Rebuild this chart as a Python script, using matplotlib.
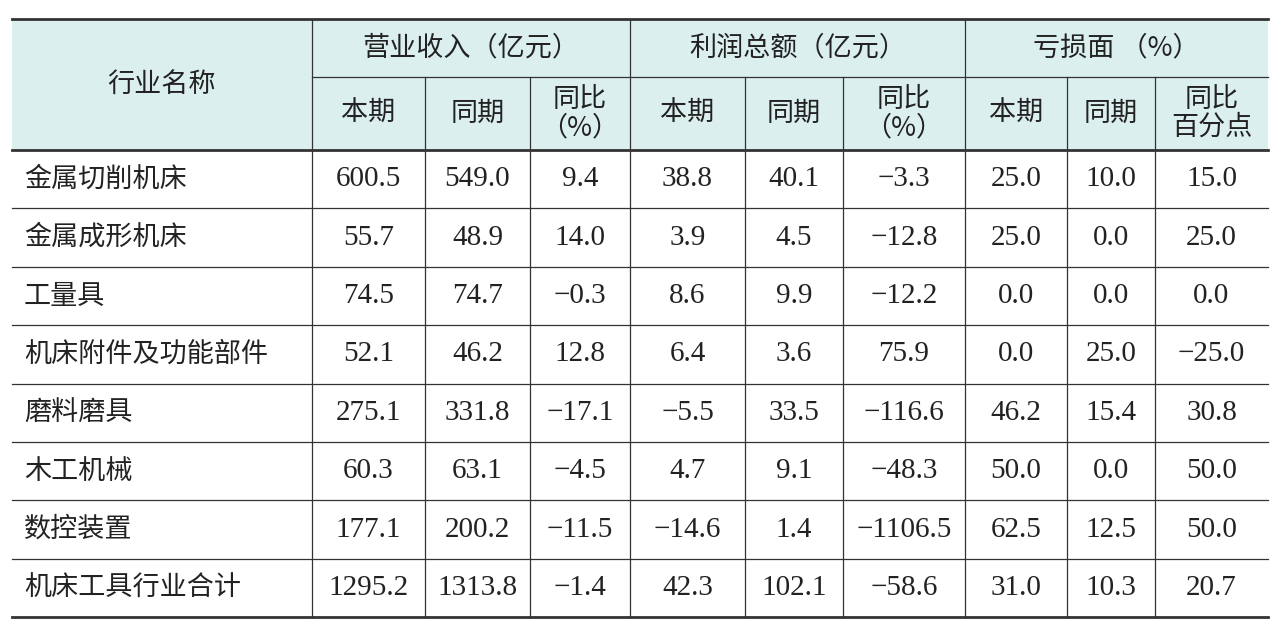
import matplotlib.pyplot as plt
import matplotlib.patches as patches

plt.rcParams['font.family'] = ['Noto Sans CJK SC', 'DejaVu Sans']

groups = ["营业收入（亿元）", "利润总额（亿元）", "亏损面 （%）"]
sub_headers = ["本期", "同期", "同比\n（%）", "本期", "同期", "同比\n（%）", "本期", "同期", "同比\n百分点"]
industries = ["金属切削机床", "金属成形机床", "工量具", "机床附件及功能部件",
              "磨料磨具", "木工机械", "数控装置", "机床工具行业合计"]
revenue_now = [600.5, 55.7, 74.5, 52.1, 275.1, 60.3, 177.1, 1295.2]
revenue_prev = [549.0, 48.9, 74.7, 46.2, 331.8, 63.1, 200.2, 1313.8]
revenue_yoy = [9.4, 14.0, -0.3, 12.8, -17.1, -4.5, -11.5, -1.4]
profit_now = [38.8, 3.9, 8.6, 6.4, -5.5, 4.7, -14.6, 42.3]
profit_prev = [40.1, 4.5, 9.9, 3.6, 33.5, 9.1, 1.4, 102.1]
profit_yoy = [-3.3, -12.8, -12.2, 75.9, -116.6, -48.3, -1106.5, -58.6]
loss_now = [25.0, 25.0, 0.0, 0.0, 46.2, 50.0, 62.5, 31.0]
loss_prev = [10.0, 0.0, 0.0, 25.0, 15.4, 0.0, 12.5, 10.3]
loss_yoy = [15.0, 25.0, 0.0, -25.0, 30.8, 50.0, 50.0, 20.7]
columns = [revenue_now, revenue_prev, revenue_yoy, profit_now, profit_prev, profit_yoy,
           loss_now, loss_prev, loss_yoy]

fig = plt.figure(figsize=(12.8, 6.3), dpi=100)
ax = fig.add_axes([0, 0, 1, 1])
ax.set_xlim(0, 1280)
ax.set_ylim(630, 0)
ax.axis('off')

xs = [12, 312, 425, 530, 630, 745, 843, 965, 1067, 1155, 1268]
top, h1, h2 = 19, 77, 150
row_h = 58.4
bottom = h2 + row_h * len(industries)
line_c = '#333333'
num_font = dict(family='Liberation Serif', fontsize=21, color='#222222')
head_font = dict(fontsize=19.5, color='#222222')

ax.add_patch(patches.Rectangle((xs[0], top), xs[-1] - xs[0], h2 - top,
                               facecolor='#dcefef', edgecolor='none'))
# outer rules
ax.plot([xs[0], xs[-1]], [top, top], color=line_c, lw=2)
ax.plot([xs[0], xs[-1]], [h2, h2], color=line_c, lw=2)
ax.plot([xs[0], xs[-1]], [bottom, bottom], color=line_c, lw=2)
ax.plot([xs[1], xs[-1]], [h1, h1], color=line_c, lw=0.9)
for i in range(1, len(industries)):
    y = h2 + row_h * i
    ax.plot([xs[0], xs[-1]], [y, y], color=line_c, lw=0.9)
for i, x in enumerate(xs[1:-1], start=1):
    y0 = top if (i - 1) % 3 == 0 else h1
    ax.plot([x, x], [y0, bottom], color=line_c, lw=0.9)

ax.text((xs[0] + xs[1]) / 2, 84, "行业名称", ha='center', va='center', **head_font)
for g, name in enumerate(groups):
    ax.text((xs[1 + 3 * g] + xs[4 + 3 * g]) / 2, (top + h1) / 2, name,
            ha='center', va='center', **head_font)
for j, name in enumerate(sub_headers):
    ax.text((xs[1 + j] + xs[2 + j]) / 2, (h1 + h2) / 2, name, ha='center', va='center',
            linespacing=1.05, **head_font)

for i, ind in enumerate(industries):
    yc = h2 + row_h * (i + 0.5)
    ax.text(xs[0] + 12, yc, ind, ha='left', va='center', fontsize=19.5, color='#222222')
    for j, col in enumerate(columns):
        ax.text((xs[1 + j] + xs[2 + j]) / 2, yc, f"{col[i]:.1f}".replace('-', '−'),
                ha='center', va='center', **num_font)

fig.savefig('out.png', dpi=100)
